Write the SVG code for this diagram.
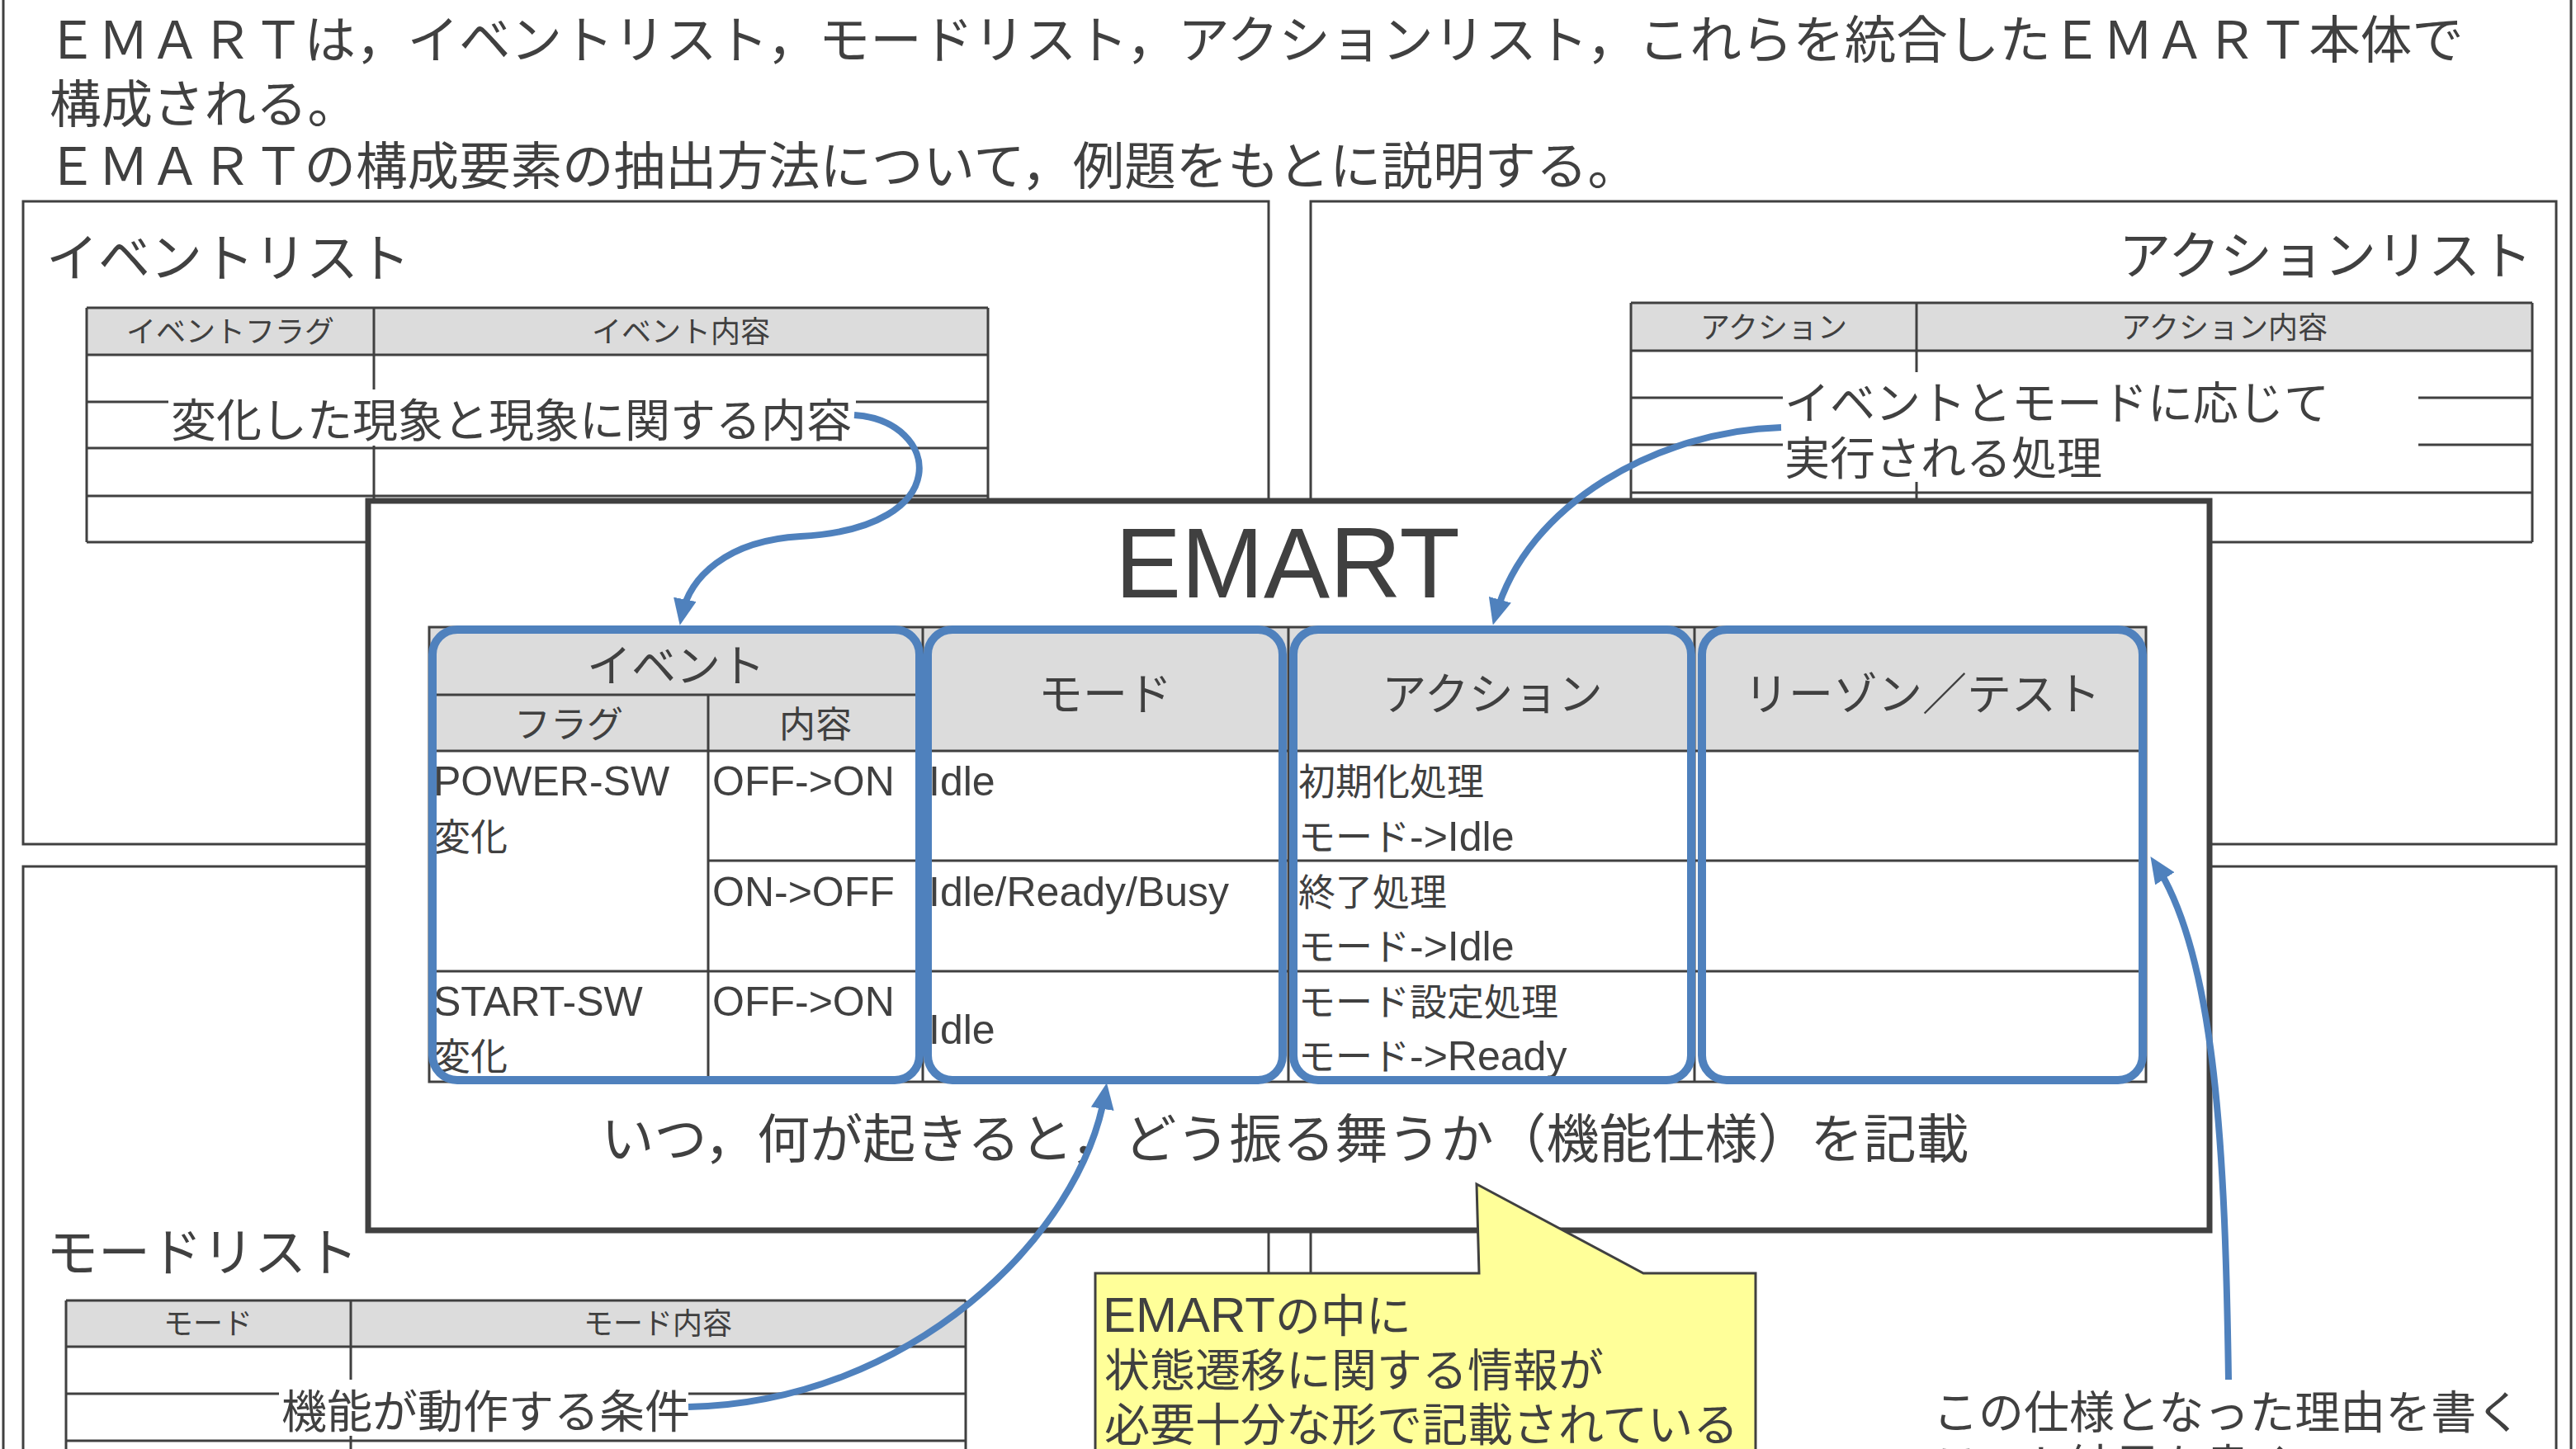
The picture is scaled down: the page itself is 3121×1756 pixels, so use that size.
<svg xmlns="http://www.w3.org/2000/svg" width="3121" height="1756" viewBox="0 0 3121 1756">
<defs>
<style>
text{font-family:"Liberation Sans","Noto Sans CJK JP",sans-serif;fill:#404040}
.ln{stroke:#404040;stroke-width:3;fill:none}
.box{fill:#fff;stroke:#404040;stroke-width:3}
.hdr{fill:#DCDCDC}
.t62{font-size:62.5px}
.t63{font-size:63px}
.t55{font-size:55px}
.t36{font-size:36px}
.t54{font-size:54px}
.t44{font-size:44px}
.c{font-size:45px}
.lat{font-size:50px}
.mid{text-anchor:middle}
.blue{fill:none;stroke:#4F81BD;stroke-width:10}
.conn{fill:none;stroke:#4F81BD;stroke-width:8;marker-end:url(#ah)}
.wbg{fill:#fff}
</style>
<marker id="ah" markerUnits="userSpaceOnUse" markerWidth="32" markerHeight="28" viewBox="0 0 32 28" refX="20" refY="14" orient="auto"><path d="M0,0L32,14L0,28z" fill="#4F81BD"/></marker>
</defs>

<g id="page-frame">
<line x1="4" y1="0" x2="4" y2="1756" class="ln"/>
<line x1="3115" y1="0" x2="3115" y2="1756" class="ln"/>
</g>

<g id="intro-text">
<text x="56" y="71" class="t62">ＥＭＡＲＴは，イベントリスト，モードリスト，アクションリスト，これらを統合したＥＭＡＲＴ本体で</text>
<text x="60" y="149" class="t62">構成される。</text>
<text x="56" y="224" class="t62">ＥＭＡＲＴの構成要素の抽出方法について，例題をもとに説明する。</text>
</g>

<g id="event-list">
<rect x="28" y="244" width="1509" height="779" class="box"/>
<text x="56" y="335" class="t63">イベントリスト</text>
<rect x="105" y="373" width="1092" height="57" class="hdr"/>
<path class="ln" d="M105,373H1197M105,430H1197M105,487H1197M105,543H1197M105,601H1197M105,657H1197M105,373V657M453,373V657M1197,373V657"/>
<text x="279" y="415" class="t36 mid">イベントフラグ</text>
<text x="825" y="415" class="t36 mid">イベント内容</text>
<rect x="204" y="472" width="833" height="68" class="wbg"/>
<text x="207" y="529" class="t55">変化した現象と現象に関する内容</text>
</g>

<g id="action-list">
<rect x="1588" y="244" width="1509" height="779" class="box"/>
<text x="3068" y="332" class="t63" text-anchor="end">アクションリスト</text>
<rect x="1976" y="367" width="1092" height="58" class="hdr"/>
<path class="ln" d="M1976,367H3068M1976,425H3068M1976,482H3068M1976,539H3068M1976,597H3068M1976,657H3068M1976,367V657M2322,367V657M3068,367V657"/>
<text x="2149" y="410" class="t36 mid">アクション</text>
<text x="2695" y="410" class="t36 mid">アクション内容</text>
<rect x="2160" y="451" width="770" height="133" class="wbg"/>
<text x="2162" y="508" class="t55">イベントとモードに応じて</text>
<text x="2162" y="575" class="t55">実行される処理</text>
</g>

<g id="mode-list">
<rect x="28" y="1050" width="1509" height="760" class="box"/>
<text x="56" y="1540" class="t63">モードリスト</text>
<rect x="80" y="1576" width="1090" height="56" class="hdr"/>
<path class="ln" d="M80,1576H1170M80,1632H1170M80,1689H1170M80,1746H1170M80,1803H1170M80,1576V1810M425,1576V1810M1170,1576V1810"/>
<text x="252" y="1617" class="t36 mid">モード</text>
<text x="797" y="1617" class="t36 mid">モード内容</text>
<rect x="338" y="1672" width="496" height="68" class="wbg"/>
<text x="341" y="1730" class="t55">機能が動作する条件</text>
</g>

<g id="reason-list">
<rect x="1588" y="1050" width="1509" height="760" class="box"/>
<text x="2342" y="1731" class="t55">この仕様となった理由を書く</text>
<text x="2342" y="1796" class="t55">テスト結果を書く</text>
</g>

<g id="emart">
<rect x="446" y="607" width="2231" height="884" fill="#fff" stroke="#404040" stroke-width="7"/>
<text x="1560" y="724" font-size="120" class="mid">EMART</text>
<rect x="520" y="760" width="2080" height="150" class="hdr"/>
<rect x="520" y="760" width="2080" height="551" class="ln"/>
<path class="ln" d="M520,842H1118M520,910H2600M858,1043H2600M520,1177H2600M858,842V1311M1118,760V1311M1561,760V1311M2053,760V1311"/>
<text x="819" y="827" class="t54 mid">イベント</text>
<text x="689" y="894" class="t44 mid">フラグ</text>
<text x="988" y="894" class="t44 mid">内容</text>
<text x="1339" y="861" class="t54 mid">モード</text>
<text x="1808" y="861" class="t54 mid">アクション</text>
<text x="2329" y="861" class="t54 mid">リーゾン／テスト</text>

<text x="525" y="964" class="lat">POWER-SW</text>
<text x="525" y="1031" class="c">変化</text>
<text x="863" y="964" class="lat">OFF-&gt;ON</text>
<text x="1125" y="964" class="lat">Idle</text>
<text x="1573" y="964" class="c">初期化処理</text>
<text x="1573" y="1031" class="c">モード<tspan class="lat">-&gt;Idle</tspan></text>

<text x="863" y="1098" class="lat">ON-&gt;OFF</text>
<text x="1125" y="1098" class="lat">Idle/Ready/Busy</text>
<text x="1573" y="1098" class="c">終了処理</text>
<text x="1573" y="1164" class="c">モード<tspan class="lat">-&gt;Idle</tspan></text>

<text x="525" y="1231" class="lat">START-SW</text>
<text x="525" y="1297" class="c">変化</text>
<text x="863" y="1231" class="lat">OFF-&gt;ON</text>
<text x="1125" y="1265" class="lat">Idle</text>
<text x="1573" y="1231" class="c">モード設定処理</text>
<text x="1573" y="1297" class="c">モード<tspan class="lat">-&gt;Ready</tspan></text>

<rect x="524" y="763" width="590" height="546" rx="30" class="blue"/>
<rect x="1124" y="763" width="430" height="546" rx="30" class="blue"/>
<rect x="1567" y="763" width="482" height="546" rx="30" class="blue"/>
<rect x="2062" y="763" width="534" height="546" rx="30" class="blue"/>

<text x="1557" y="1403" font-size="64" class="mid">いつ，何が起きると，どう振る舞うか（機能仕様）を記載</text>
</g>

<g id="callout">
<path d="M1327,1543H1792L1789,1435L1991,1543H2127V1810H1327Z" fill="#FFFF99" stroke="#404040" stroke-width="3"/>
<text x="1336" y="1614" class="t55"><tspan font-size="60">EMART</tspan>の中に</text>
<text x="1338" y="1680" class="t55">状態遷移に関する情報が</text>
<text x="1338" y="1746" class="t55">必要十分な形で記載されている</text>
</g>

<g id="connectors">
<path class="conn" d="M1035,503C1140,510 1160,640 970,650C880,655 835,700 826,746"/>
<path class="conn" d="M2158,518C2010,522 1850,610 1812,746"/>
<path class="conn" d="M834,1705C1100,1700 1310,1500 1339,1324"/>
<path class="conn" stroke-width="7" d="M2700,1672C2696,1400 2685,1160 2612,1048"/>
</g>
</svg>
